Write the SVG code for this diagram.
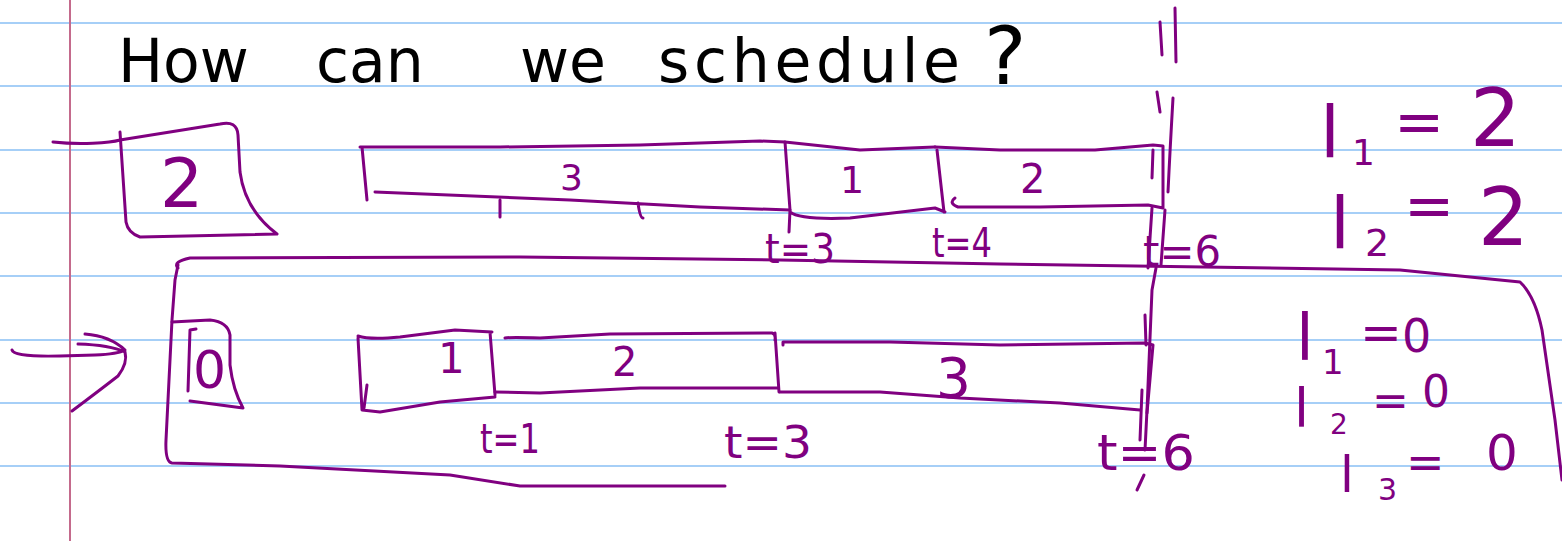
<svg xmlns="http://www.w3.org/2000/svg" width="1562" height="541" viewBox="0 0 1562 541">
<style>
.rule{stroke:#a6cff7;stroke-width:2}
.ink{fill:none;stroke:#800080;stroke-width:3;stroke-linecap:round;stroke-linejoin:round}
.pt{fill:#800080;font-family:"DejaVu Sans","Liberation Sans",sans-serif}
.bt{fill:#000;font-family:"DejaVu Sans","Liberation Sans",sans-serif}
</style>
<rect width="1562" height="541" fill="#fff"/>
<g id="paper">
<line class="rule" x1="0" y1="23" x2="1562" y2="23"/>
<line class="rule" x1="0" y1="86" x2="1562" y2="86"/>
<line class="rule" x1="0" y1="150" x2="1562" y2="150"/>
<line class="rule" x1="0" y1="213" x2="1562" y2="213"/>
<line class="rule" x1="0" y1="276" x2="1562" y2="276"/>
<line class="rule" x1="0" y1="340" x2="1562" y2="340"/>
<line class="rule" x1="0" y1="403" x2="1562" y2="403"/>
<line class="rule" x1="0" y1="466" x2="1562" y2="466"/>
<line x1="70" y1="0" x2="70" y2="541" stroke="#c46a8c" stroke-width="2"/>
</g>
<g id="title">
<text class="bt" x="118" y="82" font-size="60">How</text>
<text class="bt" x="316" y="82" font-size="60">can</text>
<text class="bt" x="520" y="82" font-size="60">we</text>
<text class="bt" x="658" y="82" font-size="60" textLength="302" lengthAdjust="spacing">schedule</text>
<text class="bt" x="984" y="84" font-size="80">?</text>
</g>
<g id="top-count">
<path class="ink" d="M53,142 C80,145 110,143 120,140 L220,124 Q237,120 238,135 L240,172 Q245,210 277,234 L140,237 Q128,233 126,222 L120,132"/>
<text class="pt" x="160" y="207" font-size="68">2</text>
</g>
<g id="top-job3">
<path class="ink" d="M360,147 L500,147 L640,145 L760,141 L785,142 M362,147 L367,200 M375,192 L570,200 L700,207 L790,210 M500,200 L500,217 M638,203 Q640,218 643,218"/>
<text class="pt" x="560" y="190" font-size="36">3</text>
</g>
<g id="top-job1">
<path class="ink" d="M785,142 L860,150 L935,147 M785,142 L790,210 L789,232 M790,212 Q800,220 850,218 L935,208 L945,212 M937,150 L944,212"/>
<text class="pt" x="840" y="193" font-size="38">1</text>
</g>
<g id="top-job2">
<path class="ink" d="M935,147 L1000,150 L1095,150 L1153,145 L1163,146 L1163,208 L1148,205 L1040,207 L958,207 Q948,203 955,198 M1153,150 L1152,178"/>
<text class="pt" x="1020" y="193" font-size="40">2</text>
</g>
<g id="top-times">
<text class="pt" x="765" y="263" font-size="40" textLength="70" lengthAdjust="spacingAndGlyphs">t=3</text>
<text class="pt" x="932" y="257" font-size="40" textLength="60" lengthAdjust="spacingAndGlyphs">t=4</text>
<text class="pt" x="1143" y="266" font-size="42" textLength="78" lengthAdjust="spacingAndGlyphs">t=6</text>
</g>
<g id="top-lateness">
<text class="pt" font-size="72"><tspan x="1320" y="157">l</tspan><tspan x="1352" y="165" font-size="36">1</tspan><tspan x="1394" y="142" font-size="60">=</tspan><tspan x="1470" y="146" font-size="80">2</tspan></text>
<text class="pt" font-size="72"><tspan x="1330" y="248">l</tspan><tspan x="1365" y="256" font-size="38">2</tspan><tspan x="1404" y="226" font-size="60">=</tspan><tspan x="1478" y="245" font-size="80">2</tspan></text>
</g>
<g id="separator">
<path class="ink" d="M1160,22 L1162,55 M1175,8 L1176,62 M1157,92 L1160,112 M1173,98 Q1170,150 1168,192 M1152,208 L1148,268 M1165,210 L1161,265"/>
</g>
<g id="arrow">
<path class="ink" d="M12,350 Q14,357 60,356 L95,355 Q118,354 125,350 M85,334 Q110,336 125,350 M78,344 Q110,345 125,352 M72,411 Q100,390 118,376 Q128,363 125,352"/>
</g>
<g id="bottom-frame">
<path class="ink" d="M178,268 Q172,262 190,258 L520,257 L780,260 L1000,264 L1400,270 L1520,282 Q1535,296 1542,330 L1555,420 L1562,480 M178,265 L175,280 L172,320 L166,440 Q165,462 172,463 L280,466 L450,475 L520,486 L725,486"/>
</g>
<g id="bottom-count">
<path class="ink" d="M172,322 L210,320 Q228,322 230,335 L230,365 Q233,390 243,408 L190,401 M196,329 L190,330 L188,391"/>
<text class="pt" x="193" y="388" font-size="52">0</text>
</g>
<g id="bottom-job1">
<path class="ink" d="M358,336 Q370,340 400,337 L455,330 L492,332 M358,338 L362,410 L380,412 L440,402 L495,397 M490,332 L495,395 M367,385 L364,408"/>
<text class="pt" x="438" y="373" font-size="42">1</text>
</g>
<g id="bottom-job2">
<path class="ink" d="M505,338 Q510,337 540,338 L610,334 L772,333 Q776,334 775,340 M495,392 L540,393 L640,388 L778,388 M775,333 L779,392"/>
<text class="pt" x="612" y="376" font-size="40">2</text>
</g>
<g id="bottom-job3">
<path class="ink" d="M783,345 L783,342 L890,342 L1000,345 L1145,343 L1153,345 L1147,413 M780,392 L880,392 L960,398 L1060,403 L1140,410"/>
<text class="pt" x="936" y="397" font-size="55">3</text>
</g>
<g id="bottom-marks">
<path class="ink" d="M1156,268 L1152,290 L1147,410 L1145,450 M1145,315 L1146,345 M1142,390 L1140,440 M1144,475 L1137,490"/>
</g>
<g id="bottom-times">
<text class="pt" x="480" y="453" font-size="40" textLength="60" lengthAdjust="spacingAndGlyphs">t=1</text>
<text class="pt" x="724" y="458" font-size="44" textLength="88" lengthAdjust="spacingAndGlyphs">t=3</text>
<text class="pt" x="1097" y="470" font-size="50" textLength="98" lengthAdjust="spacingAndGlyphs">t=6</text>
</g>
<g id="bottom-lateness">
<text class="pt" font-size="64"><tspan x="1296" y="360">l</tspan><tspan x="1322" y="374" font-size="34">1</tspan><tspan x="1360" y="350" font-size="50">=</tspan><tspan x="1402" y="352" font-size="46">0</tspan></text>
<text class="pt" font-size="54"><tspan x="1294" y="427">l</tspan><tspan x="1330" y="434" font-size="28">2</tspan><tspan x="1372" y="416" font-size="44">=</tspan><tspan x="1422" y="407" font-size="44">0</tspan></text>
<text class="pt" font-size="50"><tspan x="1340" y="492">l</tspan><tspan x="1378" y="500" font-size="30">3</tspan><tspan x="1406" y="478" font-size="46">=</tspan><tspan x="1486" y="470" font-size="50">0</tspan></text>
</g>
</svg>
